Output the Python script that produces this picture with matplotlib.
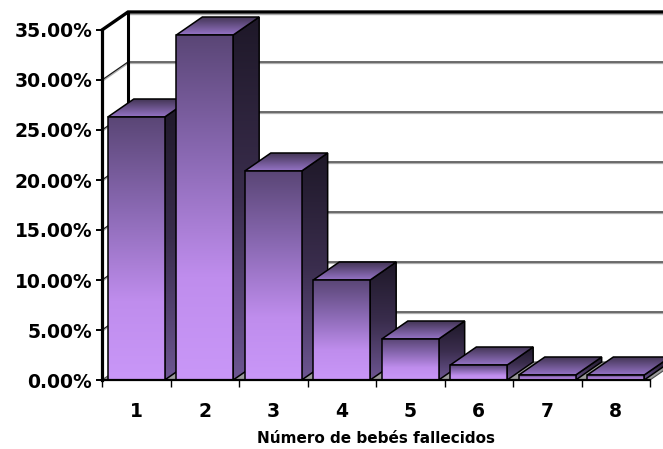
import numpy as np
import matplotlib
matplotlib.use("Agg")
import matplotlib.pyplot as plt
from matplotlib.colors import LinearSegmentedColormap
from matplotlib.patches import Polygon
from matplotlib.ticker import PercentFormatter, FixedLocator

# --- data -----------------------------------------------------------------
categories = ["1", "2", "3", "4", "5", "6", "7", "8"]
percentages = [26.3, 34.5, 20.9, 10.0, 4.1, 1.5, 0.5, 0.5]
y_ticks = [0, 5, 10, 15, 20, 25, 30, 35]
x_title = "Número de bebés fallecidos"

# --- geometry (pixels of the front plane) ---------------------------------
W, H = 663, 449
left_px, right_px, top_px, base_px = 102, 650, 30, 380
ymax = y_ticks[-1]
n = len(categories)
px_per_cat = (right_px - left_px) / n
px_per_pct = (base_px - top_px) / ymax

dx = 26 / px_per_cat      # oblique depth, in category units
dy = 18 / px_per_pct      # oblique depth, in percent units
half_w = 0.415

front_cmap = LinearSegmentedColormap.from_list(
    "front", [(0.0, "#c997f8"), (0.3, "#bf8ded"), (0.65, "#8a69b3"), (1.0, "#5a4676")])
side_cmap = LinearSegmentedColormap.from_list(
    "side", [(0.0, "#6d5692"), (0.5, "#3a2d4d"), (1.0, "#1e1828")])
top_cmap = LinearSegmentedColormap.from_list(
    "top", [(0.0, "#9674c7"), (1.0, "#433555")])

fig = plt.figure(figsize=(W / 100, H / 100), dpi=100)

# full-figure axes for the 3D scene, same data scale as the front axes
scene = fig.add_axes([0, 0, 1, 1])
xlim = (0.5 - left_px / px_per_cat, 0.5 + (W - left_px) / px_per_cat)
ylim = (-(H - base_px) / px_per_pct, ymax + top_px / px_per_pct)
scene.axis("off")

x_lo, x_hi = 0.5, n + 0.5

# floor
floor = Polygon([(x_lo, 0), (x_hi, 0), (x_hi + dx, dy), (x_lo + dx, dy)],
                closed=True, facecolor="#9c9c9c", edgecolor="#505050", lw=0.8, zorder=1)
scene.add_patch(floor)

# gridlines on the side and back walls
for v in y_ticks[1:-1]:
    xs = [x_lo, x_lo + dx, x_hi + dx + 1]
    ys = [v, v + dy, v + dy]
    scene.plot(xs, [y - 0.15 for y in ys], color="#b0b0b0", lw=0.9, zorder=2)
    scene.plot(xs, ys, color="#1a1a1a", lw=0.9, zorder=2.1)

# top edge of the walls and back corner
scene.plot([x_lo + dx, x_hi + dx + 1], [ymax + dy - 0.2] * 2, color="#a9a9a9", lw=1.0, zorder=2)
scene.plot([x_lo, x_lo + dx, x_hi + dx + 1], [ymax, ymax + dy, ymax + dy],
           color="black", lw=2.4, zorder=2.2, solid_joinstyle="miter")
scene.plot([x_lo + dx, x_lo + dx], [dy, ymax + dy], color="black", lw=2.2, zorder=2.2)


def shaded_face(verts, cmap, z):
    verts = np.asarray(verts, dtype=float)
    outline = Polygon(verts, closed=True, facecolor="none", edgecolor="black",
                      lw=1.1, zorder=z + 0.1, joinstyle="miter")
    scene.add_patch(outline)
    grad = np.linspace(0, 1, 256).reshape(-1, 1)
    im = scene.imshow(grad, cmap=cmap, origin="lower", aspect="auto",
                      interpolation="bilinear", zorder=z,
                      extent=(verts[:, 0].min(), verts[:, 0].max(),
                              verts[:, 1].min(), verts[:, 1].max()))
    im.set_clip_path(outline)


for i, v in enumerate(percentages):
    c = i + 1
    x0, x1 = c - half_w, c + half_w
    z = 10 + 3 * i
    shaded_face([(x1, 0), (x1 + dx, dy), (x1 + dx, v + dy), (x1, v)], side_cmap, z)
    shaded_face([(x0, v), (x1, v), (x1 + dx, v + dy), (x0 + dx, v + dy)], top_cmap, z + 1)
    shaded_face([(x0, 0), (x1, 0), (x1, v), (x0, v)], front_cmap, z + 2)

scene.set_xlim(*xlim)
scene.set_ylim(*ylim)

# --- front axes: spines, ticks and labels --------------------------------
ax = fig.add_axes([left_px / W, (H - base_px) / H,
                   (right_px - left_px) / W, (base_px - top_px) / H])
ax.set_xlim(x_lo, x_hi)
ax.set_ylim(0, ymax)
ax.patch.set_alpha(0)
for s in ["top", "right"]:
    ax.spines[s].set_visible(False)
ax.spines["left"].set_linewidth(2.3)
ax.spines["bottom"].set_linewidth(1.6)

ax.set_yticks(y_ticks)
ax.yaxis.set_major_formatter(PercentFormatter(xmax=100, decimals=2))
ax.tick_params(axis="y", which="major", direction="out", length=4, width=1.4,
               pad=3, labelsize=13.5)

ax.set_xticks(np.arange(1, n + 1))
ax.set_xticklabels(categories)
ax.xaxis.set_minor_locator(FixedLocator(np.arange(0.5, n + 1, 1.0)))
ax.tick_params(axis="x", which="major", length=0, pad=16, labelsize=13.5)
ax.tick_params(axis="x", which="minor", direction="out", length=5, width=1.0)

for lab in ax.get_xticklabels() + ax.get_yticklabels():
    lab.set_fontweight("bold")

ax.set_xlabel(x_title, fontsize=11, fontweight="bold", labelpad=7)

fig.savefig("out.png", dpi=100)
